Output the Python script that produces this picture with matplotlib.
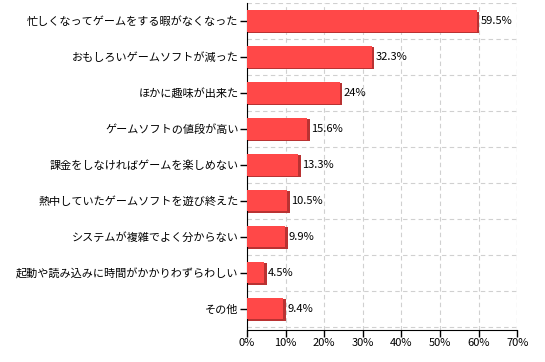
import matplotlib.pyplot as plt
import numpy as np

plt.rcParams['font.family'] = ['Noto Sans CJK JP', 'DejaVu Sans']

categories = [
    "忙しくなってゲームをする暇がなくなった",
    "おもしろいゲームソフトが減った",
    "ほかに趣味が出来た",
    "ゲームソフトの値段が高い",
    "課金をしなければゲームを楽しめない",
    "熱中していたゲームソフトを遊び終えた",
    "システムが複雑でよく分からない",
    "起動や読み込みに時間がかかりわずらわしい",
    "その他",
]
values = [59.5, 32.3, 24, 15.6, 13.3, 10.5, 9.9, 4.5, 9.4]
value_labels = ["59.5%", "32.3%", "24%", "15.6%", "13.3%", "10.5%", "9.9%", "4.5%", "9.4%"]
x_ticks = [0, 10, 20, 30, 40, 50, 60, 70]

fig = plt.figure(figsize=(5.45, 3.62), dpi=100)
ax = fig.add_axes([0.453, 0.088, 0.496, 0.904])

y = np.arange(len(categories))
# darker "side" of the pseudo-3D bars
ax.barh(y + 0.04, [v + 0.7 for v in values], height=0.6, color='#b93232', zorder=2)
ax.barh(y, values, height=0.6, color='#ff4848', zorder=3)

for yi, v, lab in zip(y, values, value_labels):
    ax.text(v + 1.0, yi, lab, va='center', ha='left', fontsize=8, color='black', zorder=5)

ax.set_xlim(0, 70)
ax.set_ylim(len(categories) - 0.4, -0.5)
ax.set_xticks(x_ticks)
ax.set_xticklabels([f"{t}%" for t in x_ticks], fontsize=8)
ax.set_yticks(y)
ax.set_yticklabels(categories, fontsize=8)

ax.set_yticks(np.arange(len(categories)) + 0.5, minor=True)
ax.tick_params(axis='y', which='minor', length=0)
ax.tick_params(axis='both', which='major', length=5, width=1, color='black', pad=1)

dash = (0, (4, 3))
ax.grid(True, axis='x', which='major', linestyle=dash, color='#d0d0d0', linewidth=0.8, zorder=0)
ax.grid(True, axis='y', which='minor', linestyle=dash, color='#d0d0d0', linewidth=0.8, zorder=0)
ax.axhline(-0.5, linestyle=dash, color='#d0d0d0', linewidth=0.8, zorder=0)
ax.axvline(70, linestyle=dash, color='#d0d0d0', linewidth=0.8, zorder=0)

ax.spines['top'].set_visible(False)
ax.spines['right'].set_visible(False)
ax.spines['left'].set_color('black')
ax.spines['bottom'].set_color('black')

fig.savefig('out.png', dpi=100)
